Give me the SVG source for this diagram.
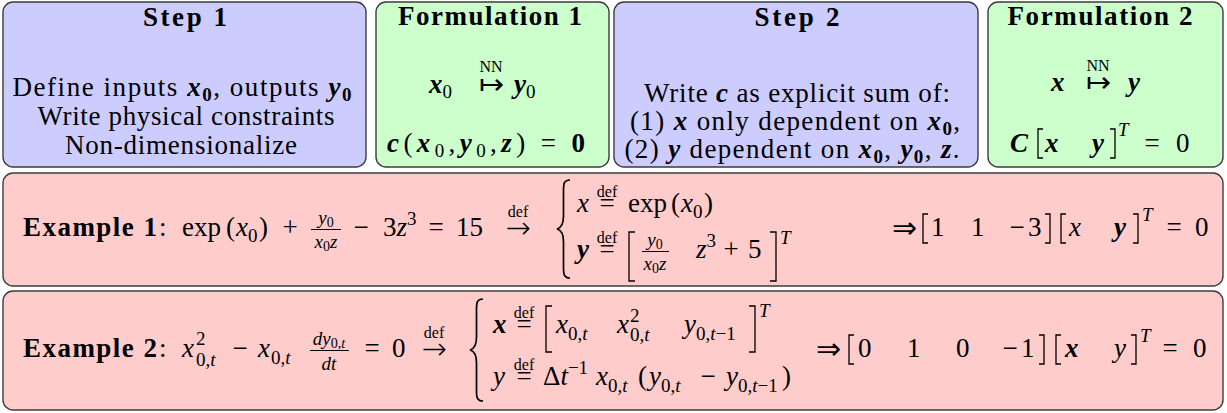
<svg xmlns="http://www.w3.org/2000/svg" width="1227" height="413" viewBox="0 0 1227 413" font-family="'Liberation Serif', 'Times New Roman', serif" font-size="27">
<style>
text{font-family:'Liberation Serif','Times New Roman',serif;font-size:27px;fill:#000}
.b{font-weight:bold}
.i{font-style:italic}
.bi{font-weight:bold;font-style:italic}
.s{font-size:19px}
.ss{font-size:14px}
.df{font-size:16px;font-style:normal;font-weight:normal}
.ar{font-family:'DejaVu Sans',sans-serif;font-size:30px;font-weight:200}
.blue{fill:#ccccff;stroke:#3c3c3c;stroke-width:1.4}
.green{fill:#ccffcc;stroke:#3c3c3c;stroke-width:1.4}
.pink{fill:#ffcccc;stroke:#3c3c3c;stroke-width:1.4}
.dl{fill:none;stroke:#000;stroke-width:1.3}
.br{fill:none;stroke:#000;stroke-width:1.7}
.fb{stroke:#000;stroke-width:1}
</style>
<g id="step1">
<rect class="blue" x="3" y="2" width="363" height="165" rx="10"/>
<text class="b" x="185" y="26" text-anchor="middle" textLength="84" lengthAdjust="spacing">Step 1</text>
<text x="182" y="96" text-anchor="middle" textLength="339" lengthAdjust="spacing">Define inputs <tspan class="bi">x</tspan><tspan class="s b" dy="5">0</tspan><tspan dy="-5">, outputs </tspan><tspan class="bi">y</tspan><tspan class="s b" dy="5">0</tspan></text>
<text x="186" y="125" text-anchor="middle" textLength="297" lengthAdjust="spacing">Write physical constraints</text>
<text x="181" y="154" text-anchor="middle" textLength="232" lengthAdjust="spacing">Non-dimensionalize</text>
</g>
<g id="formulation1">
<rect class="green" x="376" y="2" width="233" height="165" rx="10"/>
<text class="b" x="490" y="25" text-anchor="middle" textLength="184" lengthAdjust="spacing">Formulation 1</text>
<text x="429" y="93"><tspan class="bi">x</tspan><tspan class="s" dy="5">0</tspan></text>
<text><tspan class="df" x="491" y="72" text-anchor="middle">NN</tspan><tspan class="ar" x="491" y="94" text-anchor="middle">↦</tspan></text>
<text x="514" y="93"><tspan class="bi">y</tspan><tspan class="s" dy="5">0</tspan></text>
<text x="387" y="152" textLength="198" lengthAdjust="spacing"><tspan class="bi">c</tspan>(<tspan class="bi">x</tspan><tspan class="s" dy="5">0</tspan><tspan dy="-5">,</tspan><tspan class="bi">y</tspan><tspan class="s" dy="5">0</tspan><tspan dy="-5">,</tspan><tspan class="bi">z</tspan>) = <tspan class="b">0</tspan></text>
</g>
<g id="step2">
<rect class="blue" x="614" y="2" width="364" height="165" rx="10"/>
<text class="b" x="797" y="26" text-anchor="middle" textLength="85" lengthAdjust="spacing">Step 2</text>
<text x="797" y="102" text-anchor="middle" textLength="306" lengthAdjust="spacing">Write <tspan class="bi">c</tspan> as explicit sum of:</text>
<text x="795" y="130" text-anchor="middle" textLength="330" lengthAdjust="spacing">(1) <tspan class="bi">x</tspan> only dependent on <tspan class="bi">x</tspan><tspan class="s b" dy="5">0</tspan><tspan dy="-5">,</tspan></text>
<text x="792" y="158" text-anchor="middle" textLength="335" lengthAdjust="spacing">(2) <tspan class="bi">y</tspan> dependent on <tspan class="bi">x</tspan><tspan class="s b" dy="5">0</tspan><tspan dy="-5">, </tspan><tspan class="bi">y</tspan><tspan class="s b" dy="5">0</tspan><tspan dy="-5">, </tspan><tspan class="bi">z</tspan>.</text>
</g>
<g id="formulation2">
<rect class="green" x="988" y="2" width="235" height="165" rx="10"/>
<text class="b" x="1100" y="25" text-anchor="middle" textLength="185" lengthAdjust="spacing">Formulation 2</text>
<text class="bi" x="1051" y="91">x</text>
<text><tspan class="df" x="1098" y="71" text-anchor="middle">NN</tspan><tspan class="ar" x="1098" y="92" text-anchor="middle">↦</tspan></text>
<text class="bi" x="1128" y="91">y</text>
<text class="bi" x="1010" y="152">C</text>
<path class="dl" d="M1043,129 H1038 V158 H1043"/>
<text class="bi" x="1045" y="152">x</text>
<text class="bi" x="1092" y="152">y</text>
<path class="dl" d="M1110,129 H1115 V158 H1110"/>
<text class="s i" x="1118" y="136">T</text>
<text x="1152" y="152" text-anchor="middle">=</text>
<text x="1176" y="152">0</text>
</g>
<g id="example1">
<rect class="pink" x="3" y="173" width="1220" height="113" rx="10"/>
<text class="b" x="23" y="236" textLength="134" lengthAdjust="spacing">Example 1</text>
<text x="159" y="236">:</text>
<text x="182" y="236">exp</text>
<text x="226" y="236">(</text>
<text x="236" y="236"><tspan class="i">x</tspan><tspan class="s" dy="6">0</tspan></text>
<text x="259" y="236">)</text>
<text x="290" y="236" text-anchor="middle">+</text>
<text class="s" text-anchor="middle"><tspan x="326" y="224"><tspan class="i">y</tspan><tspan class="ss" dy="3">0</tspan></tspan><tspan x="326" y="248"><tspan class="i">x</tspan><tspan class="ss" dy="3">0</tspan><tspan class="i" dy="-3">z</tspan></tspan></text>
<line class="fb" x1="311" y1="229.5" x2="341" y2="229.5"/>
<text x="361" y="236" text-anchor="middle">−</text>
<text x="383" y="236">3<tspan class="i">z</tspan><tspan class="s" dy="-11">3</tspan></text>
<text x="436" y="236" text-anchor="middle">=</text>
<text x="456" y="236">15</text>
<text><tspan class="df" x="518" y="217" text-anchor="middle">def</tspan><tspan class="ar" x="518" y="238" text-anchor="middle">→</tspan></text>
<path class="br" d="M570,180 C563,180 563.5,185 563.5,193 L563.5,216 C563.5,224 561,228 557,229 C561,230 563.5,234 563.5,242 L563.5,265 C563.5,273 563,278 570,278"/>
<text class="i" x="577" y="212">x</text>
<text><tspan class="df" x="607" y="197" text-anchor="middle">def</tspan><tspan x="607" y="212" text-anchor="middle">=</tspan></text>
<text x="628" y="212">exp</text>
<text x="671" y="212">(</text>
<text x="681" y="212"><tspan class="i">x</tspan><tspan class="s" dy="6">0</tspan></text>
<text x="704" y="212">)</text>
<text class="bi" x="577" y="258">y</text>
<text><tspan class="df" x="607" y="243" text-anchor="middle">def</tspan><tspan x="607" y="258" text-anchor="middle">=</tspan></text>
<path class="dl" d="M635,232 H629 V281 H635"/>
<text class="s" text-anchor="middle"><tspan x="655" y="246"><tspan class="i">y</tspan><tspan class="ss" dy="3">0</tspan></tspan><tspan x="655" y="270"><tspan class="i">x</tspan><tspan class="ss" dy="3">0</tspan><tspan class="i" dy="-3">z</tspan></tspan></text>
<line class="fb" x1="642" y1="251.5" x2="669" y2="251.5"/>
<text x="696" y="258"><tspan class="i">z</tspan><tspan class="s" dy="-11">3</tspan></text>
<text x="731" y="258" text-anchor="middle">+</text>
<text x="748" y="258">5</text>
<path class="dl" d="M770,232 H776 V281 H770"/>
<text class="s i" x="780" y="244">T</text>
<text class="ar" x="904" y="238" text-anchor="middle">⇒</text>
<path class="dl" d="M928,214 H923 V243 H928"/>
<text x="931" y="236">1</text>
<text x="971" y="236">1</text>
<text x="1017" y="236" text-anchor="middle">−</text>
<text x="1028" y="236">3</text>
<path class="dl" d="M1045,214 H1050 V243 H1045"/>
<path class="dl" d="M1066,214 H1061 V243 H1066"/>
<text class="i" x="1069" y="236">x</text>
<text class="bi" x="1114" y="236">y</text>
<path class="dl" d="M1133,214 H1138 V243 H1133"/>
<text class="s i" x="1142" y="221">T</text>
<text x="1174" y="236" text-anchor="middle">=</text>
<text x="1195" y="236">0</text>
</g>
<g id="example2">
<rect class="pink" x="3" y="291" width="1220" height="119" rx="10"/>
<text class="b" x="23" y="357" textLength="134" lengthAdjust="spacing">Example 2</text>
<text x="159" y="357">:</text>
<text><tspan class="i" x="182" y="357">x</tspan><tspan class="s" x="196" y="345">2</tspan><tspan class="s" x="196" y="366">0,<tspan class="i">t</tspan></tspan></text>
<text x="240" y="357" text-anchor="middle">−</text>
<text class="i" x="258" y="357">x</text>
<text class="s" x="271" y="364">0,<tspan class="i">t</tspan></text>
<text class="s" text-anchor="middle"><tspan x="329" y="345"><tspan class="i">dy</tspan><tspan class="ss" dy="3">0,<tspan class="i">t</tspan></tspan></tspan><tspan class="i" x="329" y="370">dt</tspan></text>
<line class="fb" x1="310" y1="350.5" x2="349" y2="350.5"/>
<text x="372" y="357" text-anchor="middle">=</text>
<text x="392" y="357">0</text>
<text><tspan class="df" x="434" y="338" text-anchor="middle">def</tspan><tspan class="ar" x="434" y="359" text-anchor="middle">→</tspan></text>
<path class="br" d="M483,299 C476,299 476.5,304 476.5,312 L476.5,337 C476.5,345 474,349 470,350 C474,351 476.5,355 476.5,363 L476.5,388 C476.5,396 476,401 483,401"/>
<text class="bi" x="493" y="333">x</text>
<text><tspan class="df" x="524" y="318" text-anchor="middle">def</tspan><tspan x="524" y="333" text-anchor="middle">=</tspan></text>
<path class="dl" d="M552,306 H546 V352 H552"/>
<text class="i" x="556" y="333">x</text>
<text class="s" x="568" y="340">0,<tspan class="i">t</tspan></text>
<text><tspan class="i" x="617" y="333">x</tspan><tspan class="s" x="630" y="322">2</tspan><tspan class="s" x="630" y="341">0,<tspan class="i">t</tspan></tspan></text>
<text class="i" x="684" y="333">y</text>
<text class="s" x="696" y="340">0,<tspan class="i">t</tspan>−1</text>
<path class="dl" d="M749,306 H755 V352 H749"/>
<text class="s i" x="759" y="317">T</text>
<text class="i" x="493" y="385">y</text>
<text><tspan class="df" x="524" y="370" text-anchor="middle">def</tspan><tspan x="524" y="385" text-anchor="middle">=</tspan></text>
<text x="543" y="385">Δ<tspan class="i">t</tspan><tspan class="s" dy="-11">−1</tspan></text>
<text class="i" x="596" y="385">x</text>
<text class="s" x="608" y="392">0,<tspan class="i">t</tspan></text>
<text x="638" y="385">(</text>
<text class="i" x="649" y="385">y</text>
<text class="s" x="661" y="392">0,<tspan class="i">t</tspan></text>
<text x="708" y="385" text-anchor="middle">−</text>
<text class="i" x="726" y="385">y</text>
<text class="s" x="738" y="392">0,<tspan class="i">t</tspan>−1</text>
<text x="782" y="385">)</text>
<text class="ar" x="828" y="359" text-anchor="middle">⇒</text>
<path class="dl" d="M854,335 H849 V364 H854"/>
<text x="858" y="357">0</text>
<text x="907" y="357">1</text>
<text x="956" y="357">0</text>
<text x="1010" y="357" text-anchor="middle">−</text>
<text x="1021" y="357">1</text>
<path class="dl" d="M1039,335 H1044 V364 H1039"/>
<path class="dl" d="M1061,335 H1056 V364 H1061"/>
<text class="bi" x="1065" y="357">x</text>
<text class="i" x="1114" y="357">y</text>
<path class="dl" d="M1131,335 H1136 V364 H1131"/>
<text class="s i" x="1140" y="342">T</text>
<text x="1170" y="357" text-anchor="middle">=</text>
<text x="1193" y="357">0</text>
</g>
<g id="connectors"/>
</svg>
